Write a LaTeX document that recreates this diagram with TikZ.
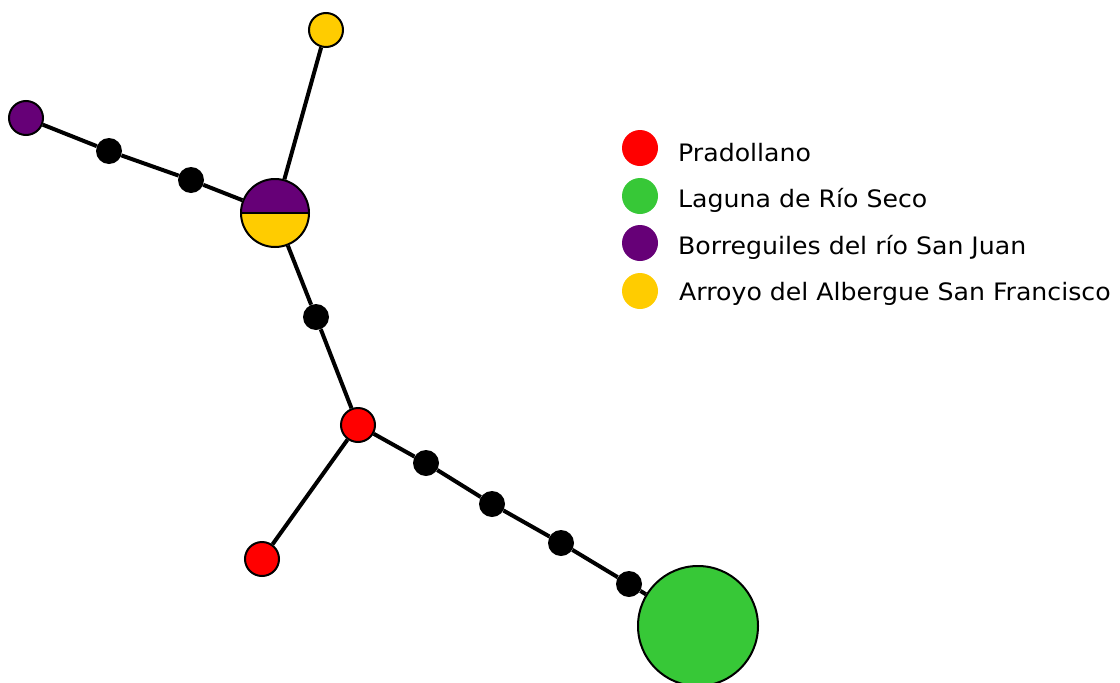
\documentclass[tikz,border=0pt]{standalone}
\usepackage{fontspec}
\setmainfont{DejaVu Sans}[FakeStretch=1.05]
\definecolor{pradored}{HTML}{FF0000}
\definecolor{lagunagreen}{HTML}{37C837}
\definecolor{borrepurple}{HTML}{660077}
\definecolor{arroyoyellow}{HTML}{FFCC00}
\begin{document}
\begin{tikzpicture}[x=1pt,y=-1pt,
    site/.style={circle,draw=black,line width=2pt,inner sep=0pt,minimum size=34pt},
    step node/.style={circle,fill=black,inner sep=0pt,minimum size=26pt},
    key/.style={circle,inner sep=0pt,minimum size=36pt},
    keytext/.style={anchor=west,inner sep=0pt,font=\fontsize{24}{28}\selectfont}]
  \clip (0,0) rectangle (1120,683);
  \draw
    (326,30) node[site,fill=arroyoyellow] (y1){}
    (26,118) node[site,fill=borrepurple] (p1){}
    (109,151) node[step node] (s1){}
    (191,180) node[step node] (s2){}
    (275,213) node[site,minimum size=68pt,path picture={
        \fill[borrepurple] (path picture bounding box.west) rectangle (path picture bounding box.north east);
        \fill[arroyoyellow] (path picture bounding box.west) rectangle (path picture bounding box.south east);
        \draw[line width=2pt] (path picture bounding box.west) -- (path picture bounding box.east);}] (py){}
    (316,317) node[step node] (s3){}
    (358,425) node[site,fill=pradored] (r1){}
    (262,559) node[site,fill=pradored] (r2){}
    (426,463) node[step node] (s4){}
    (492,504) node[step node] (s5){}
    (561,543) node[step node] (s6){}
    (629,584) node[step node] (s7){}
    (698,626) node[site,fill=lagunagreen,minimum size=120pt] (g1){};
  \begin{scope}[line width=4pt]
    \draw (p1) to (s1);
    \draw (s1) to (s2);
    \draw (s2) to (py);
    \draw (y1) to (py);
    \draw (py) to (s3);
    \draw (s3) to (r1);
    \draw (r1) to (r2);
    \draw (r1) to (s4);
    \draw (s4) to (s5);
    \draw (s5) to (s6);
    \draw (s6) to (s7);
    \draw (s7) to (g1);
  \end{scope}
  % legend
  \node[key,fill=pradored] (k1) at (640,148){};
  \node[key,fill=lagunagreen] (k2) at (640,196){};
  \node[key,fill=borrepurple] (k3) at (640,243){};
  \node[key,fill=arroyoyellow] (k4) at (640,291){};
  \node[keytext] (t1) at (678,153){Pradollano};
  \node[keytext] (t2) at (678,200){Laguna de Río Seco};
  \node[keytext] (t3) at (678,247){Borreguiles del río San Juan};
  \node[keytext] (t4) at (679,294){Arroyo del Albergue San Francisco};
\end{tikzpicture}
\end{document}
